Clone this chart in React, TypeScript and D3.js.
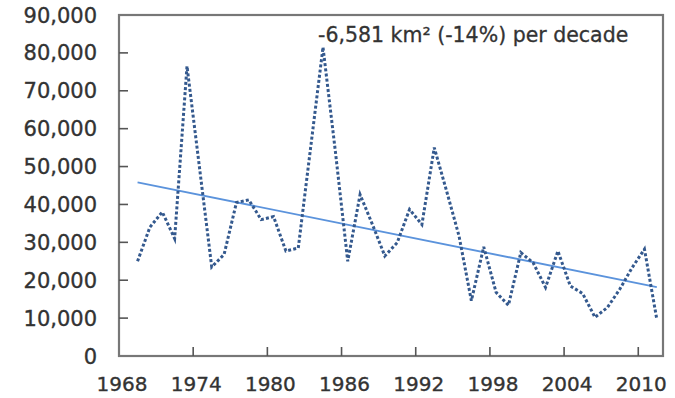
import React, { useEffect, useRef } from 'react'
import * as d3 from 'd3'

// yearly values (km²), plotted at mid-year
const years = [
  1969, 1970, 1971, 1972, 1973, 1974, 1975, 1976, 1977, 1978,
  1979, 1980, 1981, 1982, 1983, 1984, 1985, 1986, 1987, 1988,
  1989, 1990, 1991, 1992, 1993, 1994, 1995, 1996, 1997, 1998,
  1999, 2000, 2001, 2002, 2003, 2004, 2005, 2006, 2007, 2008,
  2009, 2010, 2011,
]
const values = [
  25000, 34000, 38000, 31000, 76500, 50000, 23500, 26800, 40500, 41200,
  36000, 36800, 27700, 28500, 55000, 81500, 54000, 25000, 42600, 34700,
  26400, 29900, 38700, 34700, 55000, 43500, 31700, 14600, 28800, 16800,
  13400, 27300, 24600, 18100, 27700, 18500, 16500, 10200, 12800, 17600,
  23300, 28200, 9700,
]
const xTicks = [1968, 1974, 1980, 1986, 1992, 1998, 2004, 2010]
const yTicks = [0, 10000, 20000, 30000, 40000, 50000, 60000, 70000, 80000, 90000]
const trendLabel = '-6,581 km² (-14%) per decade'

const W = 675
const H = 398

const Chart = () => {
  const ref = useRef<SVGSVGElement>(null)

  useEffect(() => {
    const svg = d3.select(ref.current)
    svg.selectAll('*').remove()

    const left = 119, right = 663, top = 15, bottom = 356
    const x = d3.scaleLinear().domain([1968, 2012]).range([left, right])
    const y = d3.scaleLinear().domain([0, 90000]).range([bottom, top])
    const font = 'DejaVu Sans, Verdana, sans-serif'
    const ink = '#333'

    const pts = years.map((yr, i) => ({ t: yr + 0.5, v: values[i] }))

    // least squares trend
    const mt = d3.mean(pts, d => d.t) as number
    const mv = d3.mean(pts, d => d.v) as number
    const slope = d3.sum(pts, d => (d.t - mt) * (d.v - mv)) / d3.sum(pts, d => (d.t - mt) ** 2)
    const t0 = pts[0].t, t1 = pts[pts.length - 1].t
    const trend = [t0, t1].map(t => ({ t, v: mv + slope * (t - mt) }))

    // frame
    svg.append('rect')
      .attr('x', left).attr('y', top)
      .attr('width', right - left).attr('height', bottom - top)
      .attr('fill', 'none').attr('stroke', '#777').attr('stroke-width', 2.2)

    // y ticks + labels
    yTicks.forEach(v => {
      if (v > 0 && v < 90000) {
        svg.append('line')
          .attr('x1', left).attr('x2', left + 9)
          .attr('y1', y(v)).attr('y2', y(v))
          .attr('stroke', '#555').attr('stroke-width', 1.6)
      }
      svg.append('text')
        .attr('x', 97).attr('y', y(v))
        .attr('dy', '0.36em')
        .attr('text-anchor', 'end')
        .attr('font-family', font).attr('font-size', 21)
        .attr('fill', ink).attr('stroke', ink).attr('stroke-width', 0.35)
        .text(d3.format(',')(v))
    })

    // x ticks + labels
    xTicks.forEach(t => {
      if (t > 1968) {
        svg.append('line')
          .attr('x1', x(t)).attr('x2', x(t))
          .attr('y1', bottom).attr('y2', bottom - 9)
          .attr('stroke', '#555').attr('stroke-width', 1.6)
      }
      svg.append('text')
        .attr('x', x(t) + 3).attr('y', 391)
        .attr('text-anchor', 'middle')
        .attr('font-family', font).attr('font-size', 20)
        .attr('fill', ink).attr('stroke', ink).attr('stroke-width', 0.35)
        .text(t)
    })

    const line = d3.line<{ t: number; v: number }>()
      .x(d => x(d.t)).y(d => y(d.v))

    svg.append('path')
      .datum(trend)
      .attr('d', line)
      .attr('fill', 'none')
      .attr('stroke', '#5b93dc')
      .attr('stroke-width', 1.9)

    svg.append('path')
      .datum(pts)
      .attr('d', line)
      .attr('fill', 'none')
      .attr('stroke', '#34598e')
      .attr('stroke-width', 3)
      .attr('stroke-dasharray', '3,2.2')

    svg.append('text')
      .attr('x', 318).attr('y', 42)
      .attr('font-family', font).attr('font-size', 20.5)
      .attr('fill', ink).attr('stroke', ink).attr('stroke-width', 0.3)
      .text(trendLabel)
  }, [])

  return <svg ref={ref} width={W} height={H} style={{ position: 'absolute', left: 0, top: 0, background: '#fff' }} />
}

export default function App() {
  return <Chart />
}
